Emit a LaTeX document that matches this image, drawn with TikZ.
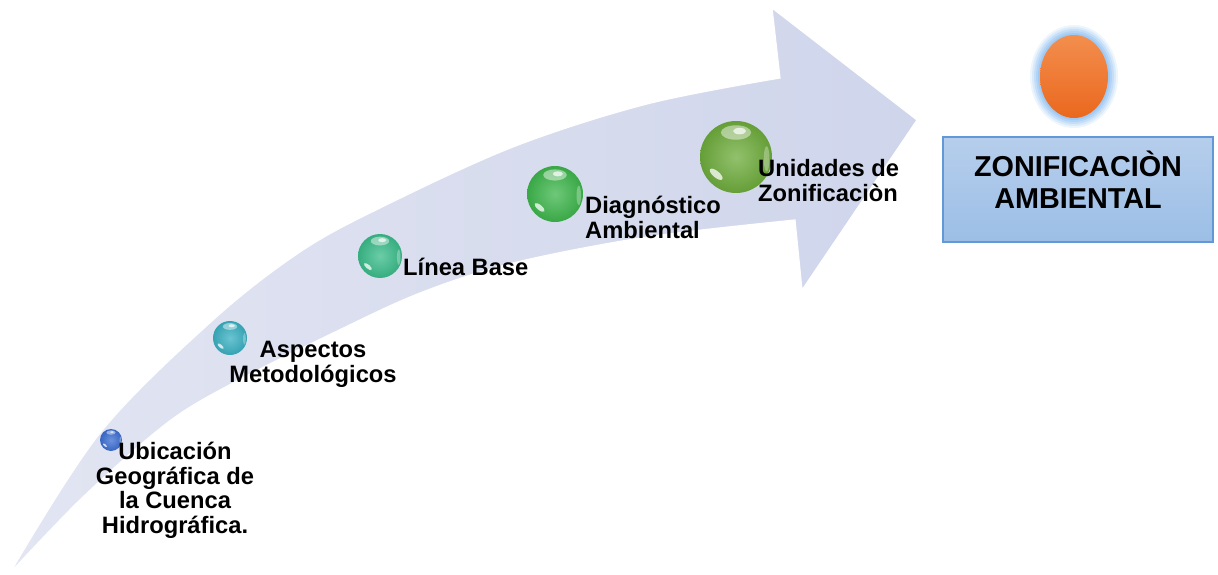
\documentclass[tikz,border=0pt]{standalone}
\usepackage{fontspec}
\setmainfont{Liberation Sans}
\usetikzlibrary{shapes.geometric}
\definecolor{arrowL}{RGB}{226,229,242}
\definecolor{arrowR}{RGB}{207,213,235}
\definecolor{ballA}{RGB}{60,110,210}
\definecolor{ballB}{RGB}{58,176,194}
\definecolor{ballC}{RGB}{58,188,138}
\definecolor{ballD}{RGB}{62,182,76}
\definecolor{ballE}{RGB}{110,172,60}
\definecolor{boxtop}{RGB}{182,206,236}
\definecolor{boxbot}{RGB}{156,190,230}
\definecolor{boxline}{RGB}{98,152,214}
\definecolor{orgtop}{RGB}{243,142,78}
\definecolor{orgbot}{RGB}{234,104,30}
\definecolor{glow}{RGB}{140,190,240}
\begin{document}
\begin{tikzpicture}[x=1pt,y=-1pt,
  ballnode/.style={circle, inner sep=0pt},
  lbl/.style={font=\bfseries\fontsize{23.7}{24.5}\selectfont, inner sep=0pt},
  bigl/.style={font=\bfseries\fontsize{28.8}{31.5}\selectfont, inner sep=0pt, align=center}]
\useasboundingbox (0,0) rectangle (1218,575);
% curved arrow
\shade[left color=arrowL, right color=arrowR, draw=white, line width=1.2pt]
  plot[smooth, tension=0.55] coordinates {(10,573) (100,433) (213,320) (300,252) (380,208) (513,147) (647,104) (780,78)}
  -- (772,8) -- (917,120) -- (802,290) -- (795,220)
  -- plot[smooth, tension=0.55] coordinates {(795,220) (647,237) (513,263) (420,293) (333,333) (233,383) (167,423) (83,497) (10,573)}
  -- cycle;
% balls
\foreach \n/\cx/\cy/\r/\c in {1/111/440/11/ballA, 2/230/338/17/ballB, 3/380/256/22/ballC, 4/555/194/28/ballD, 5/736/157/36/ballE}{
  \node[ballnode, minimum size=2*\r pt, inner color=\c!75!white, outer color=\c!92!black] (b\n) at (\cx,\cy) {};
  \fill[white, opacity=0.45] (\cx,\cy-0.68*\r) ellipse [x radius=0.42*\r, y radius=0.2*\r];
  \fill[white, opacity=0.7] (\cx+0.1*\r,\cy-0.72*\r) ellipse [x radius=0.18*\r, y radius=0.09*\r];
  \fill[white, opacity=0.75, rotate around={-40:(\cx-0.55*\r,\cy+0.48*\r)}] (\cx-0.55*\r,\cy+0.48*\r) ellipse [x radius=0.22*\r, y radius=0.09*\r];
  \fill[white, opacity=0.3] (\cx+0.85*\r,\cy+0.05*\r) ellipse [x radius=0.08*\r, y radius=0.35*\r];
}
% labels
\node[lbl, anchor=base, align=center] (t1) at (175,533) {Ubicación\\Geográfica de\\la Cuenca\\Hidrográfica.};
\node[lbl, anchor=base, align=center] (t2) at (313,382) {Aspectos\\Metodológicos};
\node[lbl, anchor=base west] (t3) at (403,275) {Línea Base};
\node[lbl, anchor=base west, align=left] (t4) at (585,238) {Diagnóstico\\Ambiental};
\node[lbl, anchor=base west, align=left] (t5) at (758,201) {Unidades de\\Zonificaciòn};
% orange ellipse with glow
\foreach \k/\o in {10/0.16, 8/0.2, 6/0.26, 4/0.34, 2/0.45}
  \fill[glow, opacity=\o] (1074,76.5) ellipse [x radius=34+\k, y radius=41.5+\k];
\node[ellipse, inner sep=0pt, minimum width=68pt, minimum height=83pt, top color=orgtop, bottom color=orgbot] (zo) at (1074,76.5) {};
% result box
\node[draw=boxline, line width=1.2pt, top color=boxtop, bottom color=boxbot, minimum width=270pt, minimum height=105pt, inner sep=0pt] (zb) at (1078,189.5) {};
\node[bigl, anchor=base] (zt) at (1078,208) {ZONIFICACIÒN\\AMBIENTAL};
\end{tikzpicture}
\end{document}
